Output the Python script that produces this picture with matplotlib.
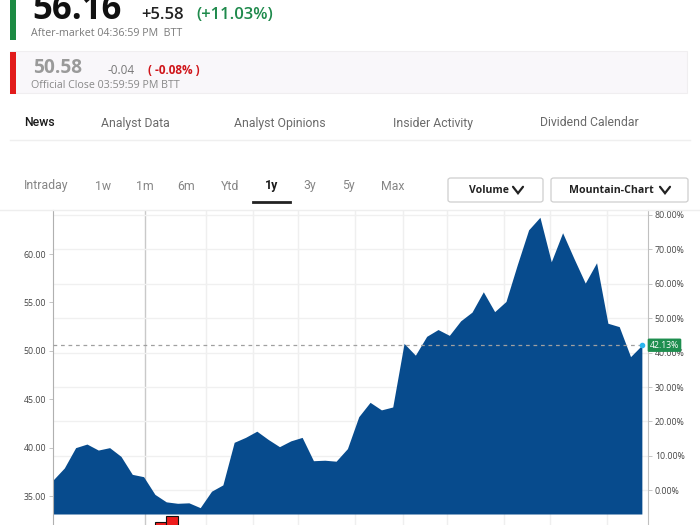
import matplotlib
matplotlib.use("Agg")
import matplotlib.pyplot as plt
from matplotlib.patches import Rectangle, FancyBboxPatch
from matplotlib.lines import Line2D

# ---------------- data ----------------
prices = [36.65, 37.9, 40.0, 40.37, 39.75, 40.0, 39.1, 37.24, 37.0, 35.17,
          34.4, 34.25, 34.3, 33.8, 35.5, 36.15, 40.55, 41.06, 41.7, 40.85,
          40.1, 40.7, 41.06, 38.65, 38.7, 38.6, 39.9, 43.2, 44.68, 43.9,
          44.2, 50.77, 49.55, 51.5, 52.2, 51.6, 53.1, 54.0, 56.1, 54.05,
          55.1, 58.9, 62.5, 63.8, 59.2, 62.2, 59.55, 57.0, 59.1, 52.85,
          52.5, 49.4, 50.58]
weeks = list(range(len(prices)))
close_price = 50.58
close_pct = 42.13
left_ticks = [35, 40, 45, 50, 55, 60]
pct_ticks = [0, 10, 20, 30, 40, 50, 60, 70, 80]
month_lines = [8.15, 13.5, 17.7, 21.65, 26.7, 30.9, 34.8, 39.8, 43.9, 48.9]
vol_weeks = [9, 10]
vol_values = [92, 99]

after_price = "56.16"
after_change = "+5.58"
after_pct = "(+11.03%)"
after_time = "After-market 04:36:59 PM  BTT"
off_price = "50.58"
off_change = "-0.04"
off_pct = "( -0.08% )"
off_time = "Official Close 03:59:59 PM BTT"
tabs = ["News", "Analyst Data", "Analyst Opinions", "Insider Activity", "Dividend Calendar"]
ranges = ["Intraday", "1w", "1m", "6m", "Ytd", "1y", "3y", "5y", "Max"]

base = close_price / (1 + close_pct / 100.0)

W, H = 700, 525
fig = plt.figure(figsize=(7, 5.25), dpi=100)
fig.patch.set_facecolor("white")

def fx(x):
    return x / W

def fy(y):
    return 1 - y / H

def T(x, y, s, **kw):
    kw.setdefault("va", "center")
    kw.setdefault("ha", "left")
    fig.text(fx(x), fy(y), s, **kw)

def hline(x0, x1, y, **kw):
    fig.add_artist(Line2D([fx(x0), fx(x1)], [fy(y), fy(y)], transform=fig.transFigure, **kw))

def chevron(xc, yc, w=5, h=3.2, lw=1.6, color="#222"):
    fig.add_artist(Line2D([fx(xc - w), fx(xc), fx(xc + w)], [fy(yc - h), fy(yc + h), fy(yc - h)],
                          transform=fig.transFigure, color=color, lw=lw,
                          solid_capstyle="round", solid_joinstyle="miter"))

# ---------------- header ----------------
fig.add_artist(Rectangle((fx(10), fy(40)), fx(6), 40 / H, transform=fig.transFigure,
                         color="#1c8a43", lw=0))
T(32, 19, after_price, fontsize=25, fontweight="bold", family="Open Sans", va="baseline", color="#111")
T(141, 19, after_change, fontsize=12, fontweight="semibold", family="Open Sans", va="baseline", color="#222")
T(196, 19, after_pct, fontsize=12, fontweight="semibold", family="Open Sans", va="baseline", color="#1f8a4c")
T(31, 33, after_time, fontsize=7.7, family="Open Sans", color="#7a7a7a")

fig.add_artist(Rectangle((fx(10), fy(93)), fx(677), 42 / H, transform=fig.transFigure,
                         fc="#f9f7fa", ec="#f0eef0", lw=0.8))
fig.add_artist(Rectangle((fx(10), fy(94)), fx(6), 42 / H, transform=fig.transFigure,
                         color="#e21b1b", lw=0))
T(33, 68, off_price, fontsize=13.8, fontweight="bold", family="Open Sans", color="#9a9a9a")
T(108, 70, off_change, fontsize=8.5, family="Open Sans", color="#777")
T(148, 70, off_pct, fontsize=8.5, fontweight="bold", family="Open Sans", color="#d0161b")
T(31, 86, off_time, fontsize=7.7, family="Open Sans", color="#888")

tab_x = [24, 101, 234, 393, 540]
for i, (s, x) in enumerate(zip(tabs, tab_x)):
    T(x, 123, s, fontsize=8.8, family="Roboto", fontweight="medium" if i == 0 else "normal",
      color="#1a1a1a" if i == 0 else "#6a6a6a")
hline(10, 690, 140, color="#efefef", lw=1)

range_x = [24, 95, 136, 177, 221, 265, 303, 342, 381]
for s, x in zip(ranges, range_x):
    sel = (s == "1y")
    T(x, 186, s, fontsize=8.8, family="Roboto", fontweight="bold" if sel else "normal",
      color="#1a1a1a" if sel else "#858585")
hline(253, 290, 202, color="#222", lw=2)

for (x0, x1, label, tx, cx) in [(448, 543, "Volume", 469, 518), (551, 688, "Mountain-Chart", 569, 665)]:
    fig.add_artist(FancyBboxPatch((fx(x0), fy(202)), fx(x1 - x0), 24 / H,
                                  boxstyle="round,pad=0,rounding_size=0.004",
                                  transform=fig.transFigure, fc="white", ec="#cfcfcf", lw=0.9))
    T(tx, 190.5, label, fontsize=7.6, fontweight="bold", family="Open Sans", color="#222")
    chevron(cx, 190)

hline(0, 700, 210, color="#eeeeee", lw=1)

# ---------------- chart ----------------
px_per_unit = 9.68
y_top = 64.55
y_bot = y_top - (525 - 210) / px_per_unit
fill_base = y_top - (514 - 210) / px_per_unit
x_left, x_right = 0, (648 - 52.7) / 11.33

ax = fig.add_axes([fx(53), 0, fx(648 - 53), (525 - 210) / H])
ax.set_xlim(x_left, x_right)
ax.set_ylim(y_bot, y_top)
ax.set_facecolor("white")

for i, m in enumerate(month_lines):
    ax.axvline(m, color="#c9c9c9" if i == 0 else "#efefef", lw=1, zorder=0)
for p in pct_ticks:
    ax.axhline(base * (1 + p / 100.0), color="#f0f0f0", lw=1, zorder=0)

ax.fill_between(weeks, prices, fill_base, color="#074b8d", lw=0, zorder=2)
ax.hlines(close_price, weeks[0], weeks[-1], colors="#a0a0a0", linestyles=(0, (3, 3)), lw=0.9, zorder=3)
ax.plot([weeks[-1]], [prices[-1]], "o", ms=3, color="#2bb6ef", zorder=5, clip_on=False)
ax.annotate(f"{close_pct:.2f}%", xy=(weeks[-1], prices[-1]), xytext=(8, 0),
            textcoords="offset pixels", ha="left", va="center", fontsize=6.3,
            family="Open Sans", color="white", zorder=6, annotation_clip=False,
            bbox=dict(boxstyle="round,pad=0.25,rounding_size=0.15", fc="#1e8e4f", ec="none"))

for s in ["top", "bottom"]:
    ax.spines[s].set_visible(False)
ax.spines["left"].set_color("#b0b0b0")
ax.spines["right"].set_color("#c0c0c0")
ax.set_xticks([])
ax.set_yticks(left_ticks)
ax.set_yticklabels([f"{v:.2f}" for v in left_ticks])
ax.tick_params(axis="y", length=3, width=0.6, color="#bbbbbb", labelsize=6.3, labelcolor="#444", pad=2)
for lab in ax.get_yticklabels():
    lab.set_family("Open Sans")

sec = ax.secondary_yaxis("right", functions=(lambda v: (v / base - 1) * 100, lambda p: base * (1 + p / 100.0)))
sec.set_yticks(pct_ticks)
sec.set_yticklabels([f"{p:.2f}%" for p in pct_ticks])
sec.spines["right"].set_visible(False)
sec.tick_params(length=3, width=0.6, color="#bbbbbb", labelsize=6.3, labelcolor="#444", pad=2)
for lab in sec.get_yticklabels():
    lab.set_family("Open Sans")

# volume pane (mostly below the visible area)
vax = fig.add_axes([fx(53), fy(600), fx(648 - 53), 85 / H], zorder=3)
vax.set_xlim(x_left, x_right)
vax.set_ylim(0, 100)
vax.patch.set_alpha(0)
vax.bar(vol_weeks, vol_values, width=1, align="edge", color="#ee1c1c", edgecolor="#111", lw=0.8)
vax.axis("off")

fig.savefig("out.png", dpi=100)
